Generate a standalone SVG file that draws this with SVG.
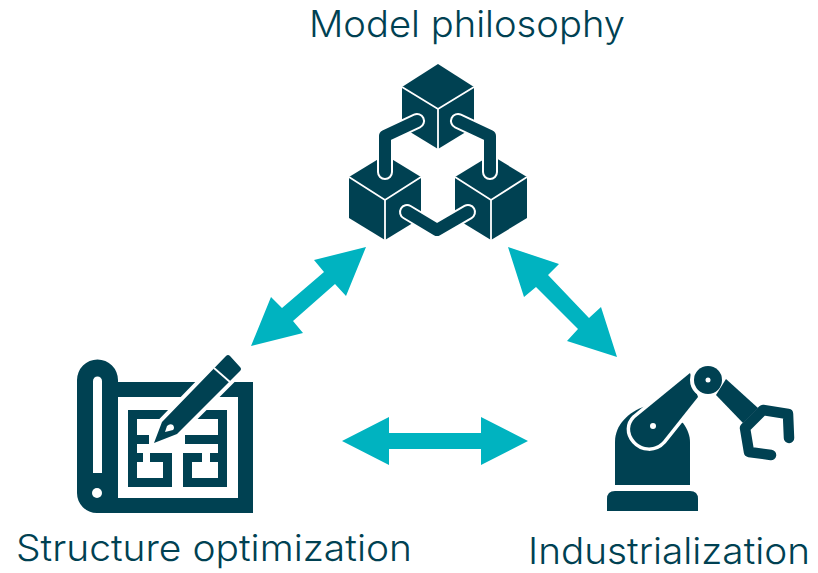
<svg xmlns="http://www.w3.org/2000/svg" width="818" height="573" viewBox="0 0 818 573">
<style>
.d{fill:#004152}
.w{fill:#fff}
.a{fill:#00b3c0}
.l{font-family:"Inter","Liberation Sans",sans-serif;font-size:37px;font-weight:350;fill:#004152}
.e{fill:none;stroke:#fff;stroke-width:1.8}
.lk{fill:none;stroke:#004152;stroke-width:12;stroke-linecap:round;stroke-linejoin:round}
.lh{fill:none;stroke:#fff;stroke-width:16;stroke-linecap:round;stroke-linejoin:round}
</style>
<rect width="818" height="573" fill="#fff"/>
<g id="model-philosophy">
<text class="l" x="309" y="37" textLength="316" lengthAdjust="spacingAndGlyphs">Model philosophy</text>
<path class="d" d="M438 64L474 87V127L438 149L402 127V87Z"/>
<path class="e" d="M402 87L438 109L474 87M438 109V149"/>
<path class="d" d="M385 155L421 177V218L385 240L349 218V177Z"/>
<path class="e" d="M349 177L385 200L421 177M385 200V240"/>
<path class="d" d="M491 155L527 177V218L491 240L455 218V177Z"/>
<path class="e" d="M455 177L491 200L527 177M491 200V240"/>
<path class="lh" d="M417 121L385 136V172M458 121L490 136V172M407 212L437 230L468 212"/>
<path class="lk" d="M417 121L385 136V172M458 121L490 136V172M407 212L437 230L468 212"/>
</g>
<g id="structure-optimization">
<text class="l" x="16" y="561" textLength="396" lengthAdjust="spacingAndGlyphs">Structure optimization</text>
<path class="d" d="M77 380A20.500 20.500 0 0 1 118 380V382H253V513H97A20 20 0 0 1 77 493Z"/>
<path class="w" d="M118 397H238V498H118Z"/>
<path class="w" d="M93 381A4.500 4.500 0 0 1 102 381V473H93Z"/>
<circle class="w" cx="97" cy="493" r="5"/>
<path class="d" d="M128 410H227V487H183V478H218V419H137V478H172V487H128Z"/>
<path class="d" d="M137 435H149V444H137ZM185 435H218V444H185ZM137 453H143V462H137ZM150 453H172V478H163V462H150ZM183 453H202V462H192V478H183ZM210 453H218V462H210Z"/>
<path d="M154 443L162 422L226 356L241 370L177 434Z" fill="#fff" stroke="#fff" stroke-width="8" stroke-linejoin="round"/>
<path class="d" d="M154 443L162 422L226 356Q228 354 230 356L240 367Q242 369 240 371L177 434Z"/>
<path class="e" d="M214 368L230 382"/>
<path class="w" d="M165 432L167 426Q170 423 173 425Q175 428 173 430Z"/>
</g>
<g id="industrialization">
<text class="l" x="528" y="564" textLength="282" lengthAdjust="spacingAndGlyphs">Industrialization</text>
<path class="d" d="M607 511V499Q607 491 615 491H690Q698 491 698 499V511Z"/>
<path class="d" d="M615 485V442C615 425 628 412 646 406L683 423C688 430 690 436 690 442V485Z"/>
<path class="d" stroke="#fff" stroke-width="7" paint-order="stroke" d="M690 373L698 397L663 441C655 450 642 449 635 441C628 433 629 424 635 418Z"/>
<circle class="d" cx="708" cy="380" r="14" stroke="#fff" stroke-width="8" paint-order="stroke"/>
<circle class="w" cx="708" cy="380" r="2.500"/>
<circle class="w" cx="653" cy="426" r="3"/>
<path class="d" d="M726 379L758 408L743 423L716 395Z"/>
<path d="M745 428L763 410L788 414L789 438M745 428L749 452L771 455" fill="none" stroke="#004152" stroke-width="10.500" stroke-linecap="round" stroke-linejoin="round"/>
</g>
<g id="connectors">
<path class="a" d="M366 247L314 260L324 272L282 308L271 297L251 346L303 333L293 321L335 284L346 296Z"/>
<path class="a" d="M508 247L559 264L548 275L589 318L601 307L617 357L567 341L578 329L536 287L524 297Z"/>
<path class="a" d="M342 441L389 417V433H481V417L528 441L481 465V449H389V465Z"/>
</g>
</svg>
